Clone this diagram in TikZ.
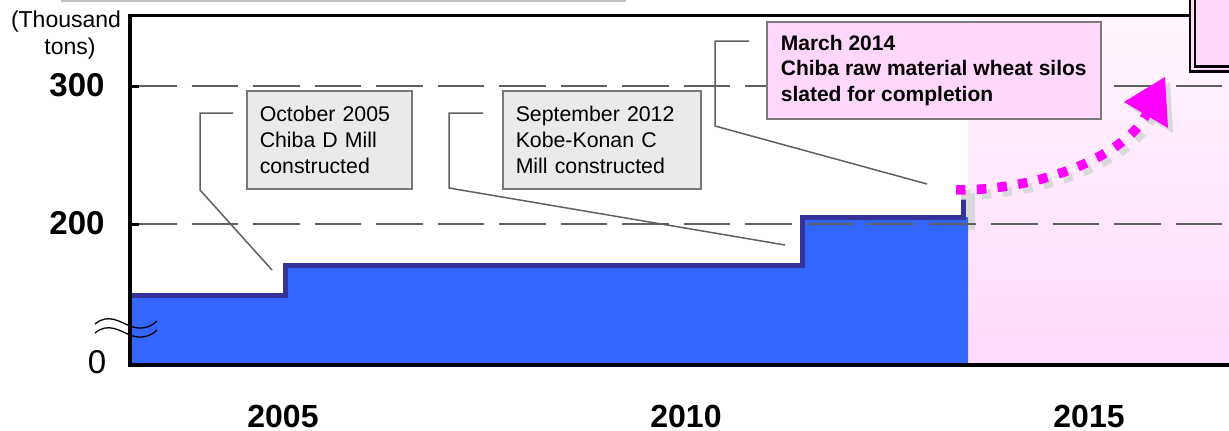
\documentclass[tikz,border=0pt]{standalone}
\usepackage{fontspec}
\setmainfont{Liberation Sans}
\usetikzlibrary{positioning}
\definecolor{barblue}{HTML}{3366FF}
\definecolor{edgeblue}{HTML}{333399}
\definecolor{notegray}{HTML}{EAEAEA}
\definecolor{notepink}{HTML}{FFD7FB}
\definecolor{pinktop}{HTML}{FFF6FE}
\definecolor{pinkbot}{HTML}{FFDAFB}
\definecolor{leadgray}{HTML}{606060}
\definecolor{shadowgray}{HTML}{D9D9D9}
\definecolor{arrmag}{HTML}{FF00FF}
\tikzset{
note/.style={
    draw=gray!95!black, line width=1.5pt,
    fill=#1,
    anchor=north west,
    align=left,
    inner xsep=13pt,
    minimum height=98pt,
    font=\fontsize{21.3}{26}\selectfont
},
notebold/.style={
    note=#1,
    inner xsep=12pt,
    minimum height=97pt,
    font=\bfseries\fontsize{21}{25.5}\selectfont
},
leader/.style={draw=leadgray, line width=1.5pt},
grid/.style={draw=leadgray, line width=1.5pt, dash pattern=on 46.5pt off 15pt},
yearlbl/.style={inner sep=0pt, font=\bfseries\fontsize{32}{36}\selectfont},
ticklbl/.style={inner sep=0pt, font=\bfseries\fontsize{33}{36}\selectfont},
dotarrow/.style={line width=9.5pt, dash pattern=on 9.5pt off 11.3pt}
}

\begin{document}
\begin{tikzpicture}[x=1pt,y=-1pt]
\useasboundingbox (0,0) rectangle (1229,431);
% background
\fill[gray!50] (61,-3) rectangle (626,2);
\shade[top color=pinktop, bottom color=pinkbot] (968,15) rectangle (1229,365);
\fill[shadowgray] (966,193) rectangle (975,230);
% tonnage steps
\fill[barblue] (130,365) -- (130,295) -- (285,295) -- (285,265) -- (802,265)
    -- (802,217) -- (968,217) -- (968,365) -- cycle;
\draw[edgeblue, line width=5pt] (130,295) -- (285,295) -- (285,265) -- (802,265)
    -- (802,217) -- (963,217) -- (963,190);
\draw[grid] (130,86) -- (1229,86);
\draw[grid] (130,224) -- (1229,224);
% axes
\draw[line width=3pt] (128,15) -- (1190,15);
\draw[line width=4pt] (130,15) -- (130,365) -- (1229,365);
\draw[line width=3pt] (130,86) -- (139,86);
\draw[line width=3pt] (130,224) -- (139,224);
\draw[line width=1.3pt] (95,324) .. controls (108,313) and (120,322) .. (130,326)
    .. controls (140,330) and (150,328) .. (157,321);
\draw[line width=1.3pt] (95,333) .. controls (108,322) and (120,331) .. (130,335)
    .. controls (140,339) and (150,337) .. (157,330);
\draw[double=notepink, double distance=2.7pt, line width=2.3pt, fill=notepink]
    (1192.5,-10) rectangle (1240,69);
% labels
\node[font=\fontsize{23}{28}\selectfont] (unitA) at (66,22) {(Thousand};
\node[font=\fontsize{23}{28}\selectfont] (unitB) at (70,49) {tons)};
\node[ticklbl] (t300) at (77,85) {300};
\node[ticklbl] (t200) at (77,223) {200};
\node[inner sep=0pt, font=\fontsize{33}{36}\selectfont] (t0) at (97,362) {0};
\node[yearlbl] (y05) at (283,416) {2005};
\node[yearlbl] (y10) at (686,416) {2010};
\node[yearlbl] (y15) at (1089,416) {2015};
% notes
\coordinate (mill05) at (272,270);
\coordinate (mill12) at (785,245);
\coordinate (silo14) at (927,184);
\node[note=notegray, text width=139pt] (oct05) at (246,90)
    {October 2005\\Chiba D Mill\\constructed};
\node[note=notegray, text width=172pt] (sep12) at (502,90)
    {September 2012\\Kobe-Konan C\\Mill constructed};
\node[notebold=notepink, minimum width=334pt] (mar14) at (766,21)
    {March 2014\\Chiba raw material wheat silos\\slated for completion};
\draw[leader] ([shift={(-13,23)}]oct05.north west) -- ++(-33,0) -- ++(0,77) -- (mill05);
\draw[leader] ([shift={(-19,23)}]sep12.north west) -- ++(-34,0) -- ++(0,75) -- (mill12);
\draw[leader] ([shift={(-17,20)}]mar14.north west) -- ++(-34,0) -- ++(0,85) -- (silo14);
% expansion arrow
\coordinate (arrS) at (956,190);
\coordinate (arrE) at (1146,115);
\draw[shadowgray, dotarrow] ([shift={(5,5)}]arrS) .. controls (1055,195) and (1133,156) .. ([shift={(5,5)}]arrE);
\fill[shadowgray] (1170,82) -- (1129,107) -- (1173,133) -- cycle;
\draw[arrmag, dotarrow] (arrS) .. controls (1050,190) and (1128,151) .. (arrE);
\fill[arrmag] (1165,77) -- (1124,102) -- (1168,128) -- cycle;
\end{tikzpicture}
\end{document}
